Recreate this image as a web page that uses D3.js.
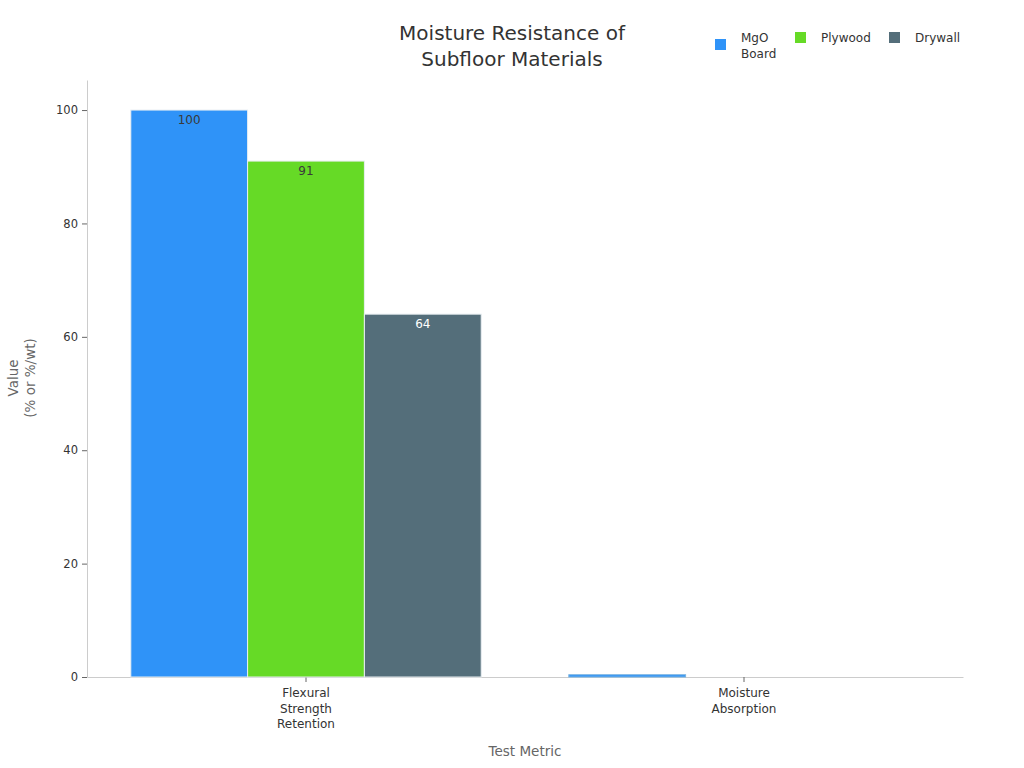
<!DOCTYPE html>
<html>
<head>
<meta charset="utf-8">
<script src="https://cdn.jsdelivr.net/npm/d3@7"></script>
<style>
  body { margin: 0; background: #fff; font-family: "DejaVu Sans", sans-serif; }
</style>
</head>
<body>
<div id="chart"></div>
<script>
// Chart data
const categories = [['Flexural', 'Strength', 'Retention'], ['Moisture', 'Absorption']];
const categoryKeys = ['Flexural Strength Retention', 'Moisture Absorption'];
const seriesNames = ['MgO Board', 'Plywood', 'Drywall'];
const mgoValues = [100, 0.4];
const plywoodValues = [91, null];
const drywallValues = [64, null];
const yTicks = [0, 20, 40, 60, 80, 100];

const seriesColors = ['#2f93f8', '#66da26', '#546e7a'];
const labelColors = ['#3a3a3a', '#3a3a3a', '#fff'];

const width = 1024;
const height = 768;
const margin = { top: 80, right: 61, bottom: 91, left: 87 };

const svg = d3.select('#chart')
  .append('svg')
  .attr('width', width)
  .attr('height', height)
  .style('display', 'block');

// One band per category, bars take 80% of each band
const bandStep = (width - margin.left - margin.right) / categoryKeys.length;
const x0 = d3.scaleBand()
  .domain(categoryKeys)
  .range([margin.left, width - margin.right]);

const x1 = d3.scaleBand()
  .domain(seriesNames)
  .range([0, bandStep * 0.8]);

const y = d3.scaleLinear()
  .domain([0, 105.3])
  .range([height - margin.bottom, margin.top]);

// Build rows for grouped bars
const allSeries = [mgoValues, plywoodValues, drywallValues];
const rows = [];
categoryKeys.forEach((c, ci) => {
  seriesNames.forEach((s, si) => {
    const v = allSeries[si][ci];
    if (v !== null) rows.push({ cat: c, series: s, si, value: v });
  });
});

// Axes
const yAxis = svg.append('g')
  .attr('transform', `translate(${margin.left},0)`)
  .call(d3.axisLeft(y).tickValues(yTicks).tickSize(5).tickSizeOuter(0).tickPadding(4));
yAxis.select('.domain').attr('stroke', '#ccc');
yAxis.selectAll('.tick line').attr('stroke', '#666');
yAxis.selectAll('.tick text')
  .attr('font-size', 11.5)
  .attr('fill', '#333')
  .attr('font-family', '"DejaVu Sans", sans-serif');

const xAxis = svg.append('g')
  .attr('transform', `translate(0,${height - margin.bottom})`)
  .call(d3.axisBottom(x0).tickSize(5).tickSizeOuter(0).tickFormat(''));
xAxis.select('.domain').attr('stroke', '#ccc');
xAxis.selectAll('.tick line').attr('stroke', '#666');
xAxis.selectAll('.tick').each(function(d, i) {
  const t = d3.select(this).append('text')
    .attr('fill', '#333')
    .attr('font-size', 12)
    .attr('text-anchor', 'middle')
    .attr('font-family', '"DejaVu Sans", sans-serif')
    .attr('y', 20);
  categories[i].forEach((line, li) => {
    t.append('tspan').attr('x', 0).attr('dy', li === 0 ? 0 : 15.5).text(line);
  });
});

// Bars
const bars = svg.append('g');
bars.selectAll('rect')
  .data(rows)
  .join('rect')
  .attr('x', d => x0(d.cat) + bandStep * 0.1 + x1(d.series))
  .attr('y', d => y(d.value))
  .attr('width', x1.bandwidth())
  .attr('height', d => y(0) - y(d.value))
  .attr('fill', d => seriesColors[d.si])
  .attr('stroke', d => d.value < 5 ? '#7ab3e0' : '#e8eef2')
  .attr('stroke-width', 1);

// Value labels inside the top of the bars
bars.selectAll('text')
  .data(rows.filter(d => d.value >= 5))
  .join('text')
  .attr('x', d => x0(d.cat) + bandStep * 0.1 + x1(d.series) + x1.bandwidth() / 2)
  .attr('y', d => y(d.value) + 14)
  .attr('text-anchor', 'middle')
  .attr('font-size', 12)
  .attr('fill', d => labelColors[d.si])
  .text(d => d3.format('d')(d.value));

// Title
const title = svg.append('text')
  .attr('x', 512)
  .attr('text-anchor', 'middle')
  .attr('font-size', 20)
  .attr('fill', '#333');
title.append('tspan').attr('x', 512).attr('y', 40).text('Moisture Resistance of');
title.append('tspan').attr('x', 512).attr('y', 66).text('Subfloor Materials');

// Axis titles
svg.append('text')
  .attr('x', (margin.left + width - margin.right) / 2)
  .attr('y', 756)
  .attr('text-anchor', 'middle')
  .attr('font-size', 13.5)
  .attr('fill', '#666')
  .text('Test Metric');

const yTitle = svg.append('text')
  .attr('transform', 'translate(18,378) rotate(-90)')
  .attr('text-anchor', 'middle')
  .attr('font-size', 13.5)
  .attr('fill', '#666');
yTitle.append('tspan').attr('x', 0).attr('y', 0).text('Value');
yTitle.append('tspan').attr('x', 0).attr('y', 17).text('(% or %/wt)');

// Legend
const legendItems = [
  { lines: ['MgO', 'Board'], x: 715 },
  { lines: ['Plywood'], x: 795 },
  { lines: ['Drywall'], x: 889 }
];
const legend = svg.append('g').attr('font-size', 12).attr('fill', '#333');
legendItems.forEach((it, i) => {
  legend.append('rect')
    .attr('x', it.x)
    .attr('y', i === 0 ? 39 : 32)
    .attr('width', 11)
    .attr('height', 11)
    .attr('fill', seriesColors[i]);
  const t = legend.append('text').attr('y', 42);
  it.lines.forEach((l, li) => {
    t.append('tspan').attr('x', it.x + 26).attr('dy', li === 0 ? 0 : 16).text(l);
  });
});
</script>
</body>
</html>
